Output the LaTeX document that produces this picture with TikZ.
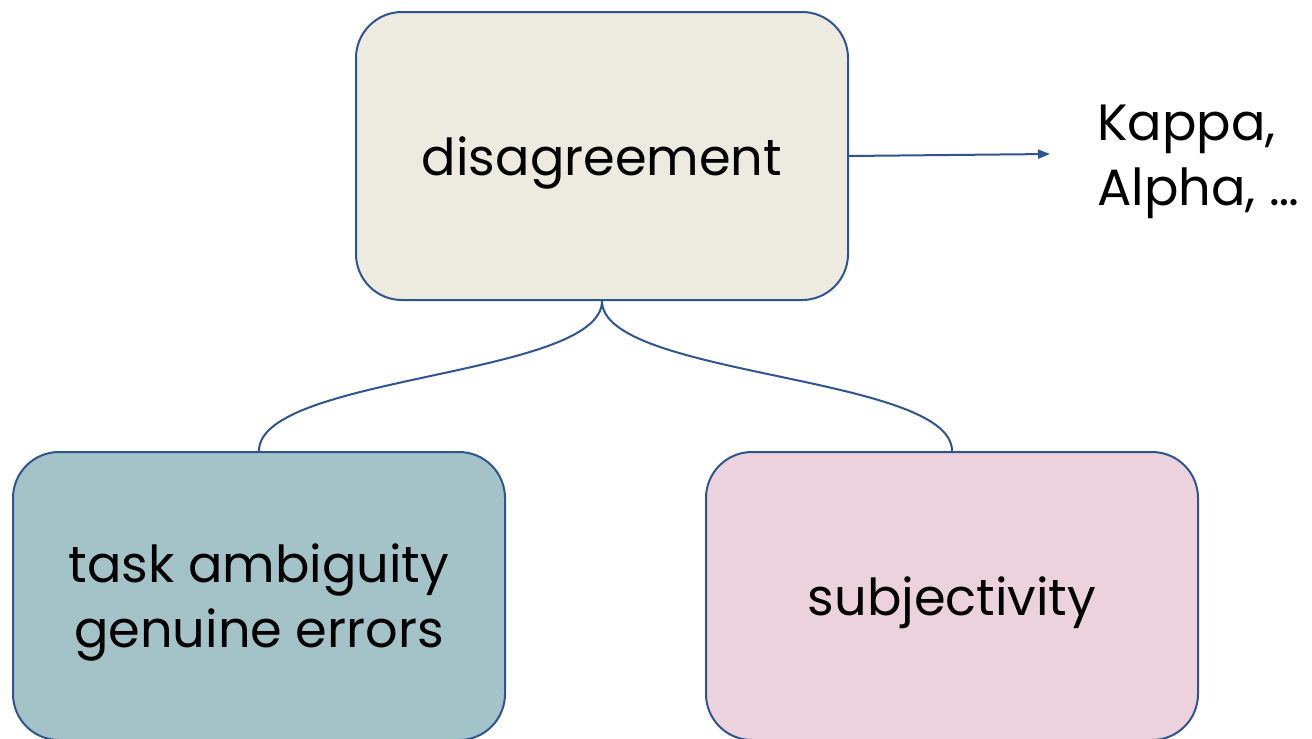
\documentclass[tikz,border=0pt]{standalone}
\usepackage{fontspec}
\setmainfont{Poppins}
\usetikzlibrary{arrows.meta}
\definecolor{edge}{HTML}{2F5590}
\definecolor{topfill}{HTML}{EDEBE0}
\definecolor{leftfill}{HTML}{A4C3C8}
\definecolor{rightfill}{HTML}{ECD2DC}
\begin{document}
\begin{tikzpicture}[x=1pt,y=-1pt,
  box/.style={draw=edge, line width=2pt, rounded corners=46pt,
    minimum width=492pt, minimum height=288pt, inner sep=0pt,
    text depth=0pt, align=center, font=\fontsize{51}{65}\selectfont},
  link/.style={draw=edge, line width=2pt}]
\useasboundingbox (0,0) rectangle (1312,739);
\node[box, fill=topfill] (dis) at (602,156) {disagreement};
\node[box, fill=leftfill] (amb) at (259,596) {task ambiguity\\genuine errors};
\node[box, fill=rightfill] (sub) at (952,596) {subjectivity};
\node[anchor=base west, align=left, inner sep=0pt,
  font=\fontsize{51}{65}\selectfont] (kap) at (1097,205) {Kappa,\\Alpha, \dots};
\coordinate (tip) at (1050,154);
\draw[link, -{Triangle[length=12pt,width=9pt]}] (dis.east) -- (tip);
\draw[link] (dis.south) .. controls +(0,76) and +(0,-76) .. (amb.north);
\draw[link] (dis.south) .. controls +(0,76) and +(0,-76) .. (sub.north);
\end{tikzpicture}
\end{document}
